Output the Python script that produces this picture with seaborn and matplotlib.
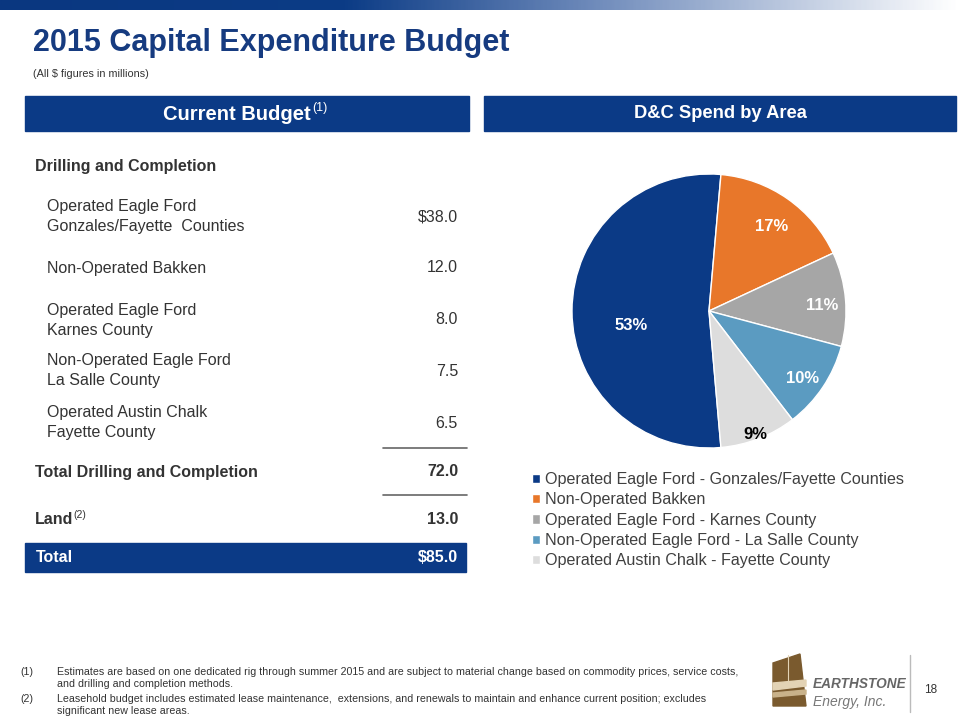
import matplotlib
matplotlib.use("Agg")
import matplotlib.pyplot as plt
import seaborn as sns
import numpy as np
from matplotlib.patches import Rectangle, Polygon
from matplotlib.colors import LinearSegmentedColormap
from matplotlib import font_manager

# ---- data ----
areas = [
    "Operated Eagle Ford - Gonzales/Fayette Counties",
    "Non-Operated Bakken",
    "Operated Eagle Ford - Karnes County",
    "Non-Operated Eagle Ford - La Salle County",
    "Operated Austin Chalk - Fayette County",
]
table_line1 = ["Operated Eagle Ford", "Non-Operated Bakken", "Operated Eagle Ford",
               "Non-Operated Eagle Ford", "Operated Austin Chalk"]
table_line2 = ["Gonzales/Fayette  Counties", "", "Karnes County",
               "La Salle County", "Fayette County"]
dc_spend = [38.0, 12.0, 8.0, 7.5, 6.5]
land_spend = 13.0
footnotes = [
    ("(1)", ["Estimates are based on one dedicated rig through summer 2015 and are subject to material change based on commodity prices, service costs,",
             "and drilling and completion methods."]),
    ("(2)", ["Leasehold budget includes estimated lease maintenance,  extensions, and renewals to maintain and enhance current position; excludes",
             "significant new lease areas."]),
]

NAVY = "#0B3A86"
TXT = "#333333"
pie_colors = ["#0B3A86", "#E8772A", "#A6A6A6", "#5B9BC1", "#DDDDDD"]

sns.set_theme(style="white")
names = {f.name for f in font_manager.fontManager.ttflist}
plt.rcParams["font.family"] = ["Liberation Sans", "DejaVu Sans"]
narrow = "Liberation Sans Narrow" if "Liberation Sans Narrow" in names else "Liberation Sans"

fig = plt.figure(figsize=(9.6, 7.2), dpi=100)
ax = fig.add_axes([0, 0, 1, 1])
ax.set_xlim(0, 960)
ax.set_ylim(720, 0)
ax.axis("off")

# top gradient bar
cmap = LinearSegmentedColormap.from_list(
    "g", [(0, "#0A3780"), (0.36, "#0C3C86"), (0.62, "#6F8BBB"), (1, "#FFFFFF")])
ax.imshow(np.linspace(0, 1, 400)[None, :], cmap=cmap, aspect="auto", extent=[0, 960, 10, 0], zorder=0)

# title
ax.text(33, 43, "2015 Capital Expenditure Budget", fontsize=22, fontweight="bold", color="#163B80", va="center")
ax.text(33, 74, "(All $ figures in millions)", fontsize=7.8, color=TXT, va="center", family=narrow)

renderer = fig.canvas.get_renderer()


def header(x0, x1, label, size, sup=None):
    ax.add_patch(Rectangle((x0, 96), x1 - x0, 35, color=NAVY, zorder=1))
    t = ax.text((x0 + x1) / 2, 114, label, fontsize=size, fontweight="bold", color="white",
                ha="center", va="center", zorder=2)
    if sup:
        w = t.get_window_extent(renderer).width
        t.set_x((x0 + x1) / 2 - 10)
        ax.text((x0 + x1) / 2 - 10 + w / 2 + 1, 108, sup, fontsize=9, color="white",
                ha="left", va="center", zorder=2)


header(25, 469, "Current Budget", 14.5, "(1)")
header(484, 956, "D&C Spend by Area", 13.2)

# table
FS = 11.5
ax.text(35, 166, "Drilling and Completion", fontsize=FS, fontweight="bold", color=TXT, va="center")
row_y = [217, 268, 320, 371, 423]
for l1, l2, v, y in zip(table_line1, table_line2, dc_spend, row_y):
    if l2:
        ax.text(47, y - 10, l1, fontsize=FS, color=TXT, va="center")
        ax.text(47, y + 10, l2, fontsize=FS, color=TXT, va="center")
    else:
        ax.text(47, y, l1, fontsize=FS, color=TXT, va="center")
    vs = f"${v:.1f}" if y == row_y[0] else f"{v:.1f}"
    ax.text(458, y, vs, fontsize=FS, color=TXT, va="center", ha="right")

dc_total = sum(dc_spend)
ax.plot([383, 467], [448, 448], color="#666666", lw=1.2)
ax.text(35, 472, "Total Drilling and Completion", fontsize=FS, fontweight="bold", color=TXT, va="center")
ax.text(458, 472, f"{dc_total:.1f}", fontsize=FS, fontweight="bold", color=TXT, va="center", ha="right")
ax.plot([383, 467], [495, 495], color="#666666", lw=1.2)
t = ax.text(35, 520, "Land", fontsize=FS, fontweight="bold", color=TXT, va="center")
w = t.get_window_extent(renderer).width
ax.text(35 + w, 515, "(2)", fontsize=7.5, color=TXT, va="center")
ax.text(458, 520, f"{land_spend:.1f}", fontsize=FS, fontweight="bold", color=TXT, va="center", ha="right")

ax.add_patch(Rectangle((25, 543), 441, 29, color=NAVY))
ax.text(36, 558, "Total", fontsize=FS, fontweight="bold", color="white", va="center")
ax.text(458, 558, f"${dc_total + land_spend:.1f}", fontsize=FS, fontweight="bold", color="white",
        va="center", ha="right")

# pie
cx, cy, r = 709, 311, 137
pax = fig.add_axes([(cx - r) / 960, 1 - (cy + r) / 720, 2 * r / 960, 2 * r / 720])
wedges, _, autotexts = pax.pie(dc_spend, colors=pie_colors, startangle=275, counterclock=False,
                               autopct="%1.0f%%", pctdistance=0.8,
                               textprops=dict(fontsize=12, fontweight="bold", color="white"))
pax.set_xlim(-1, 1)
pax.set_ylim(-1, 1)
dists = [0.57, 0.8, 0.83, 0.82, 0.93]
turn = [7, 0, 0, 0, 0]
for at, wd, d, tr in zip(autotexts, wedges, dists, turn):
    ang = np.deg2rad((wd.theta1 + wd.theta2) / 2 + tr)
    at.set_position((d * np.cos(ang), d * np.sin(ang) - 0.035))
autotexts[-1].set_color("black")

fig.legend(wedges, areas, loc="upper left", bbox_to_anchor=(532 / 960, 1 - 472 / 720),
           frameon=False, fontsize=11.6, handlelength=0.5, handleheight=0.5, handletextpad=0.3,
           labelspacing=0.33, borderaxespad=0, borderpad=0, labelcolor="#404040")

# footnotes
fy = [672, 699]
for (num, lines), y in zip(footnotes, fy):
    ax.text(20, y, num, fontsize=7.7, color=TXT, va="center", family=narrow)
    for i, ln in enumerate(lines):
        ax.text(57, y + 12 * i, ln, fontsize=7.7, color=TXT, va="center", family=narrow)

# logo
ax.add_patch(Polygon([(773, 663), (800, 654), (806, 706), (773, 706)], color="#7A5A2E"))
ax.add_patch(Polygon([(773, 683), (806, 680), (806, 686), (773, 690)], color="#E3D3B5"))
ax.add_patch(Polygon([(773, 693), (806, 690), (806, 694), (773, 697)], color="#C9B28A"))
ax.plot([788, 788], [655, 683], color="#E3D3B5", lw=0.8)
ax.text(813, 684, "EARTHSTONE", fontsize=9.8, fontweight="bold", style="italic", color="#666666", va="center")
ax.text(813, 702, "Energy, Inc.", fontsize=10, style="italic", color="#777777", va="center")
ax.plot([910, 910], [655, 712], color="#BBBBBB", lw=1)
ax.text(924, 690, "18", fontsize=8.5, color=TXT, va="center")

fig.savefig("out.png", dpi=100)
